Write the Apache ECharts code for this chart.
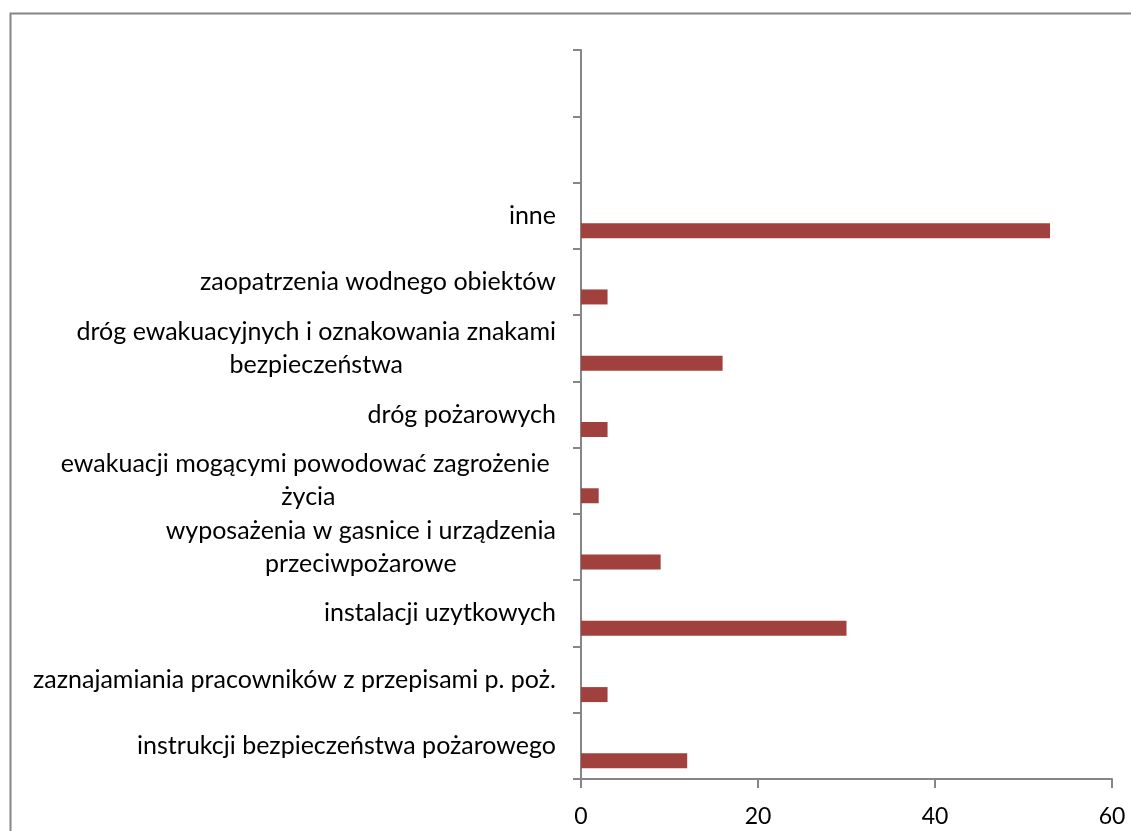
<!DOCTYPE html>
<html>
<head>
<meta charset="utf-8">
<title>Nieprawidłowości</title>
<script src="https://cdn.jsdelivr.net/npm/echarts@6/dist/echarts.min.js"></script>
<style>
  html, body { margin: 0; padding: 0; background: #fff; }
  #chart { width: 1131px; height: 831px; }
</style>
</head>
<body>
<div id="chart"></div>
<script>
// kategorie od dołu do góry (dwie puste na górze)
const categories = [
  'instrukcji bezpieczeństwa pożarowego',
  'zaznajamiania pracowników z przepisami p. poż.',
  'instalacji uzytkowych',
  'wyposażenia w gasnice i urządzenia\nprzeciwpożarowe',
  'ewakuacji mogącymi powodować zagrożenie \nżycia',
  'dróg pożarowych',
  'dróg ewakuacyjnych i oznakowania znakami\nbezpieczeństwa',
  'zaopatrzenia wodnego obiektów',
  'inne',
  '',
  ''
];
const values = [12, 3, 30, 9, 2, 3, 16, 3, 53, null, null];
const emptyValues = categories.map(() => null);
const xTicks = [0, 20, 40, 60];

const FONT = 'Lato';
const chart = echarts.init(document.getElementById('chart'));

chart.setOption({
  animation: false,
  backgroundColor: '#fff',
  graphic: [{
    type: 'rect',
    shape: { x: 10.5, y: 13.5, width: 1130, height: 840 },
    style: { fill: 'none', stroke: '#868686', lineWidth: 2 },
    silent: true
  }],
  grid: { left: 581, right: 19, top: 50, bottom: 52, containLabel: false },
  xAxis: {
    type: 'value',
    min: xTicks[0],
    max: xTicks[xTicks.length - 1],
    interval: 20,
    splitLine: { show: false },
    axisLine: { show: true, lineStyle: { color: '#868686', width: 2 } },
    axisTick: { show: true, length: 9, lineStyle: { color: '#868686', width: 2 } },
    axisLabel: { color: '#000', fontFamily: FONT, fontSize: 23, margin: 26 }
  },
  yAxis: {
    type: 'category',
    data: categories,
    axisLine: { show: true, lineStyle: { color: '#868686', width: 2 } },
    axisTick: { show: true, length: 8, lineStyle: { color: '#868686', width: 2 } },
    axisLabel: {
      color: '#000',
      fontFamily: FONT,
      fontSize: 25,
      margin: 25,
      interval: 0,
      // każda linia wyśrodkowana w bloku, blok wyrównany do osi
      formatter: (v) => v ? v.split('\n').map(s => '{c|' + s + '}').join('\n') : '',
      rich: {
        c: { align: 'center', fontFamily: FONT, fontSize: 25, lineHeight: 33, color: '#000' }
      }
    }
  },
  series: [
    { type: 'bar', data: emptyValues, barWidth: 15, barGap: '0%' },
    { type: 'bar', data: emptyValues, barWidth: 15, barGap: '0%' },
    {
      type: 'bar',
      data: values,
      barWidth: 15,
      barGap: '0%',
      itemStyle: { color: '#A0413E' }
    }
  ]
});
</script>
</body>
</html>
